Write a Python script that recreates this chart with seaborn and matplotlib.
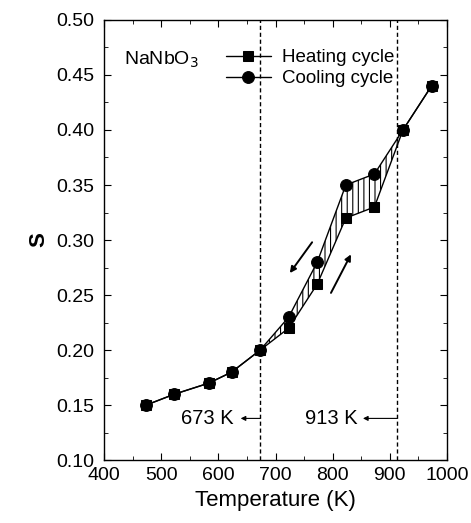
import numpy as np
import pandas as pd
import matplotlib
matplotlib.use("Agg")
import matplotlib.pyplot as plt
import seaborn as sns

# data
temp_heat = [473, 523, 583, 623, 673, 723, 773, 823, 873, 923, 973]
s_heat = [0.15, 0.16, 0.17, 0.18, 0.20, 0.22, 0.26, 0.32, 0.33, 0.40, 0.44]
temp_cool = [473, 523, 583, 623, 673, 723, 773, 823, 873, 923, 973]
s_cool = [0.15, 0.16, 0.17, 0.18, 0.20, 0.23, 0.28, 0.35, 0.36, 0.40, 0.44]
transitions = [673, 913]
transition_labels = ["673 K", "913 K"]

heat = pd.DataFrame({"T": temp_heat, "S": s_heat})
cool = pd.DataFrame({"T": temp_cool, "S": s_cool})

sns.set_style("ticks")
plt.rcParams["font.family"] = ["Liberation Sans", "DejaVu Sans"]
plt.rcParams["hatch.linewidth"] = 0.8
for k in ["axes.edgecolor", "axes.labelcolor", "xtick.color", "ytick.color", "text.color"]:
    plt.rcParams[k] = "black"

fig, ax = plt.subplots(figsize=(4.71, 5.23), dpi=100)

sns.lineplot(data=heat, x="T", y="S", ax=ax, color="black", lw=1.0,
             marker="s", markersize=7, markeredgecolor="black", label="Heating cycle")
sns.lineplot(data=cool, x="T", y="S", ax=ax, color="black", lw=1.0,
             marker="o", markersize=8.5, markeredgecolor="black", label="Cooling cycle")

# hysteresis area
mask = (heat["T"] >= 673) & (heat["T"] <= 923)
ax.fill_between(heat["T"][mask], heat["S"][mask], cool["S"][mask],
                facecolor="none", edgecolor="black", hatch="|||", linewidth=0)

# transition temperatures: dashed line, small arrow, label
for t, lab, x_arr, x_txt in zip(transitions, transition_labels, [639, 853], [626, 844]):
    ax.axvline(t, color="black", ls="--", lw=1.0, dashes=(3, 2))
    ax.annotate("", xy=(x_arr, 0.138), xytext=(t, 0.138),
                arrowprops=dict(arrowstyle="-|>", color="black", lw=0.8,
                                mutation_scale=7, shrinkA=0, shrinkB=0))
    ax.text(x_txt, 0.138, lab, ha="right", va="center", fontsize=14.5)

# heating / cooling direction arrows
ax.annotate("", xy=(725, 0.270), xytext=(764, 0.298),
            arrowprops=dict(arrowstyle="-|>", color="black", lw=1.4, mutation_scale=9,
                            shrinkA=0, shrinkB=0))
ax.annotate("", xy=(832, 0.287), xytext=(797, 0.252),
            arrowprops=dict(arrowstyle="-|>", color="black", lw=1.4, mutation_scale=9,
                            shrinkA=0, shrinkB=0))

ax.text(434, 0.464, r"NaNbO$_3$", fontsize=14, ha="left", va="center")

ax.set_xlim(400, 1000)
ax.set_ylim(0.10, 0.50)
ax.set_xticks(np.arange(400, 1001, 100))
ax.set_yticks(np.arange(0.10, 0.501, 0.05))
ax.set_xticks(np.arange(450, 1000, 100), minor=True)
ax.set_yticks(np.arange(0.125, 0.5, 0.05), minor=True)
ax.yaxis.set_major_formatter(matplotlib.ticker.FormatStrFormatter("%.2f"))
ax.tick_params(which="both", direction="in", top=True, right=True, labelsize=14)
ax.tick_params(which="major", length=5)
ax.tick_params(which="minor", length=3)
ax.tick_params(axis="y", pad=7)
ax.tick_params(axis="x", pad=5)
for sp in ax.spines.values():
    sp.set_linewidth(1.0)

ax.set_xlabel("Temperature (K)", fontsize=16, labelpad=4)
ax.set_ylabel("S", fontsize=16, fontweight="bold", labelpad=5)

ax.legend(loc="upper left", bbox_to_anchor=(0.305, 0.972), frameon=False,
          fontsize=13.5, handlelength=2.4, labelspacing=0.2, handletextpad=0.6)

fig.subplots_adjust(left=0.221, right=0.949, top=0.962, bottom=0.12)
fig.savefig("out.png", dpi=100)
